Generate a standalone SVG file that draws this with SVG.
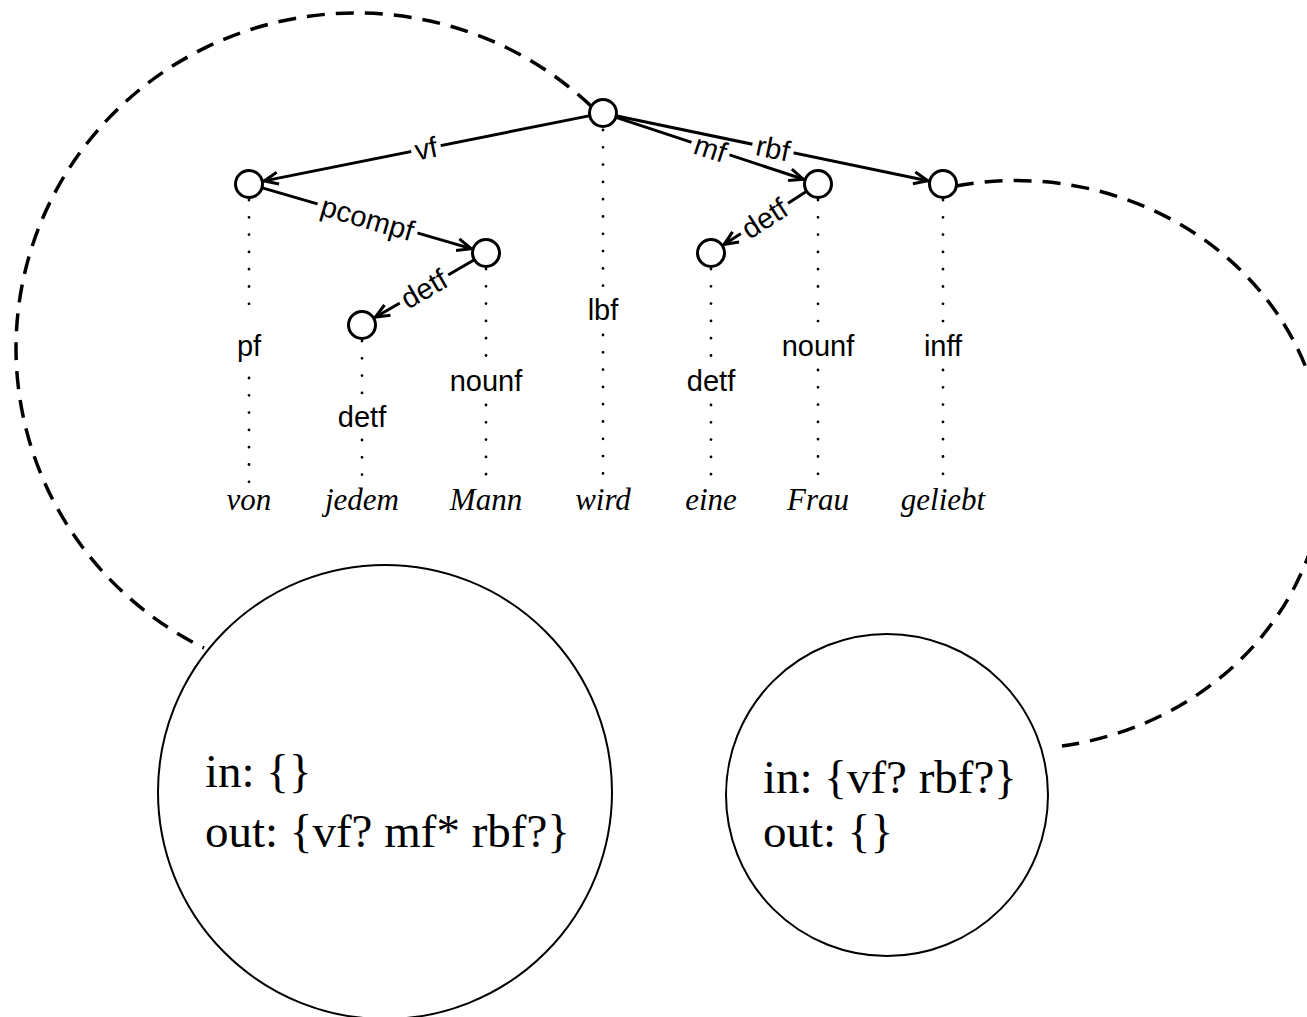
<svg xmlns="http://www.w3.org/2000/svg" width="1307" height="1017" viewBox="0 0 1307 1017">
<defs>
<marker id="arr" markerUnits="userSpaceOnUse" viewBox="-20 -10 24 20" refX="0" refY="0" markerWidth="24" markerHeight="20" orient="auto">
<path d="M -15 -6 L -1 0 L -15 6" fill="none" stroke="#000" stroke-width="3"/>
</marker>
<style>
.edge{stroke:#000;stroke-width:3;fill:none;marker-end:url(#arr)}
.node{fill:#fff;stroke:#000;stroke-width:3}
.dot{stroke:#000;stroke-width:2.8;stroke-linecap:round;stroke-dasharray:0 17.3;fill:none}
.dash{stroke:#000;stroke-width:3.5;fill:none;stroke-dasharray:18 11}
.lab{font-family:"Liberation Sans",Arial,sans-serif;font-size:29px;text-anchor:middle;fill:#000}
.word{font-family:"Liberation Serif","Times New Roman",serif;font-style:italic;font-size:31px;text-anchor:middle;fill:#000}
.state{fill:none;stroke:#000;stroke-width:2}
.st{font-family:"Liberation Serif","Times New Roman",serif;font-size:47px;fill:#000}
.bg{fill:#fff}
</style>
</defs>
<rect x="0" y="0" width="1307" height="1017" fill="#fff"/>

<g id="connectors">
<path class="dash" d="M 591 106 A 340 335.5 0 0 0 16 348.5 A 340 335.5 0 0 0 204 648"/>
<path class="dash" d="M 956 186 A 309 286 0 0 1 1325 464 A 309 286 0 0 1 1062 746"/>
<line class="edge" x1="590.3" y1="115.6" x2="263.2" y2="181.1"/>
<line class="edge" x1="261.5" y1="187.6" x2="472.1" y2="248.9"/>
<line class="edge" x1="474.8" y1="259.5" x2="374.5" y2="317.7"/>
<line class="edge" x1="615.3" y1="117.1" x2="804.2" y2="179.5"/>
<line class="edge" x1="615.7" y1="115.7" x2="928.8" y2="181.0"/>
<line class="edge" x1="807.1" y1="191.0" x2="723.2" y2="245.1"/>
<g transform="translate(426,148.5) rotate(-11.34)"><rect class="bg" x="-15" y="-8" width="30" height="16"/><text class="lab" y="10">vf</text></g>
<g transform="translate(367.5,218.5) rotate(16.2)"><rect class="bg" x="-52" y="-8" width="104" height="16"/><text class="lab" y="10">pcompf</text></g>
<g transform="translate(424,289) rotate(-30.14)"><rect class="bg" x="-28" y="-8" width="56" height="16"/><text class="lab" y="10">detf</text></g>
<g transform="translate(710.5,148.5) rotate(18.27)"><rect class="bg" x="-20" y="-8" width="40" height="16"/><text class="lab" y="10">mf</text></g>
<g transform="translate(773,148.5) rotate(11.8)"><rect class="bg" x="-21" y="-8" width="42" height="16"/><text class="lab" y="10">rbf</text></g>
<g transform="translate(764.5,218.5) rotate(-32.8)"><rect class="bg" x="-28" y="-8" width="56" height="16"/><text class="lab" y="10">detf</text></g>
</g>

<g id="projections">
<path class="dot" d="M 249 200 V 320 M 249 378 V 484"/>
<path class="dot" d="M 362 341 V 395 M 362 440 V 484"/>
<path class="dot" d="M 486 269 V 358 M 486 405 V 484"/>
<path class="dot" d="M 603 130 V 290 M 603 335 V 484"/>
<path class="dot" d="M 711 269 V 358 M 711 405 V 484"/>
<path class="dot" d="M 818 200 V 322 M 818 370 V 484"/>
<path class="dot" d="M 943 200 V 322 M 943 370 V 484"/>
</g>

<g id="node-von">
<circle class="node" cx="249" cy="184" r="13.5"/>
<text class="lab" x="249" y="356">pf</text>
<text class="word" x="249" y="510">von</text>
</g>
<g id="node-jedem">
<circle class="node" cx="362" cy="325" r="13.5"/>
<text class="lab" x="362" y="427">detf</text>
<text class="word" x="362" y="510">jedem</text>
</g>
<g id="node-Mann">
<circle class="node" cx="486" cy="253" r="13.5"/>
<text class="lab" x="486" y="391">nounf</text>
<text class="word" x="486" y="510">Mann</text>
</g>
<g id="node-wird">
<circle class="node" cx="603" cy="113" r="13.5"/>
<text class="lab" x="603" y="320">lbf</text>
<text class="word" x="603" y="510">wird</text>
</g>
<g id="node-eine">
<circle class="node" cx="711" cy="253" r="13.5"/>
<text class="lab" x="711" y="391">detf</text>
<text class="word" x="711" y="510">eine</text>
</g>
<g id="node-Frau">
<circle class="node" cx="818" cy="184" r="13.5"/>
<text class="lab" x="818" y="356">nounf</text>
<text class="word" x="818" y="510">Frau</text>
</g>
<g id="node-geliebt">
<circle class="node" cx="943" cy="184" r="13.5"/>
<text class="lab" x="943" y="356">inff</text>
<text class="word" x="943" y="510">geliebt</text>
</g>

<g id="state-wird">
<circle class="state" cx="385" cy="792" r="227"/>
<text class="st" x="205" y="787">in: {}</text>
<text class="st" x="205" y="847">out: {vf? mf* rbf?}</text>
</g>
<g id="state-geliebt">
<circle class="state" cx="887" cy="795" r="161"/>
<text class="st" x="763" y="793">in: {vf? rbf?}</text>
<text class="st" x="763" y="847">out: {}</text>
</g>
</svg>
